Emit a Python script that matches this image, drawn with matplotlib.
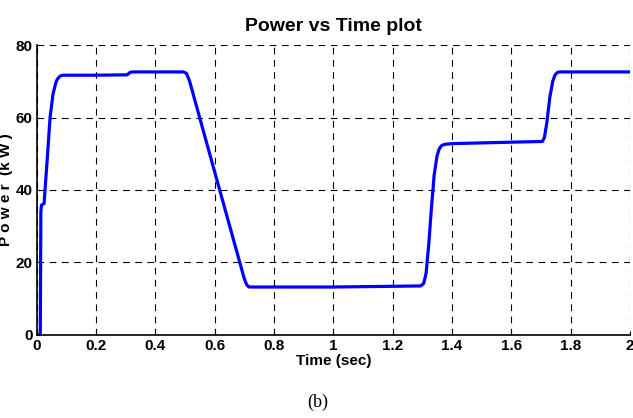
import matplotlib
matplotlib.use("Agg")
import matplotlib.pyplot as plt
from matplotlib import font_manager

time_s = [0.0, 0.012, 0.014, 0.016, 0.02, 0.025, 0.028, 0.035, 0.045, 0.055, 0.065,
          0.072, 0.08, 0.088, 0.1, 0.2, 0.305, 0.315, 0.325, 0.4, 0.495, 0.505, 0.515,
          0.6, 0.7, 0.708, 0.716, 0.8, 1.0, 1.2, 1.295, 1.305, 1.313, 1.322, 1.33,
          1.34, 1.35, 1.358, 1.366, 1.375, 1.4, 1.5, 1.6, 1.705, 1.712, 1.72, 1.73,
          1.74, 1.748, 1.755, 1.762, 1.8, 2.0]
power_kw = [0.0, 0.0, 34.0, 35.8, 36.0, 36.3, 40.0, 48.0, 60.0, 66.5, 69.8,
            70.9, 71.5, 71.7, 71.7, 71.7, 71.8, 72.5, 72.6, 72.6, 72.6, 72.2, 70.2,
            45.0, 15.5, 13.8, 13.2, 13.2, 13.2, 13.4, 13.5, 14.2, 17.0, 25.0, 34.0,
            44.0, 49.5, 51.5, 52.3, 52.6, 52.8, 53.0, 53.2, 53.4, 54.5, 58.5, 65.5,
            70.0, 71.8, 72.4, 72.6, 72.6, 72.6]

x_ticks = [0, 0.2, 0.4, 0.6, 0.8, 1, 1.2, 1.4, 1.6, 1.8, 2]
x_labels = ["0", "0.2", "0.4", "0.6", "0.8", "1", "1.2", "1.4", "1.6", "1.8", "2"]
y_ticks = [0, 20, 40, 60, 80]

names = {f.name for f in font_manager.fontManager.ttflist}
sans = "Liberation Sans Narrow" if "Liberation Sans Narrow" in names else "Liberation Sans"
serif = "Liberation Serif"

fig = plt.figure(figsize=(6.33, 4.18), dpi=100)
ax = fig.add_axes([0.058, 0.199, 0.937, 0.693])

ax.plot(time_s, power_kw, color="#0000ff", linewidth=2.3,
        solid_joinstyle="round", solid_capstyle="round")

ax.set_xlim(0, 2)
ax.set_ylim(0, 80)
ax.set_xticks(x_ticks)
ax.set_xticklabels(x_labels)
ax.set_yticks(y_ticks)

ax.grid(True, color="black", linestyle=(0, (6, 5)), linewidth=0.8)
ax.spines["top"].set_visible(False)
ax.spines["right"].set_visible(False)
ax.spines["left"].set_linewidth(1.2)
ax.spines["bottom"].set_linewidth(1.2)
ax.tick_params(direction="in", length=3, pad=3)
for lab in ax.get_xticklabels() + ax.get_yticklabels():
    lab.set_fontfamily(sans)
    lab.set_fontweight("bold")
    lab.set_fontsize(11)

ax.set_title("Power vs Time plot", fontfamily=sans, fontweight="bold", fontsize=14, pad=10)
ax.set_xlabel("Time (sec)", fontfamily=sans, fontweight="bold", fontsize=11, labelpad=1)
ax.set_ylabel("P o w e r  (k W )", fontfamily=sans, fontweight="bold", fontsize=11, labelpad=2)

fig.text(0.502, 0.027, "(b)", fontfamily=serif, fontsize=13, ha="center")

fig.savefig("out.png", dpi=100)
